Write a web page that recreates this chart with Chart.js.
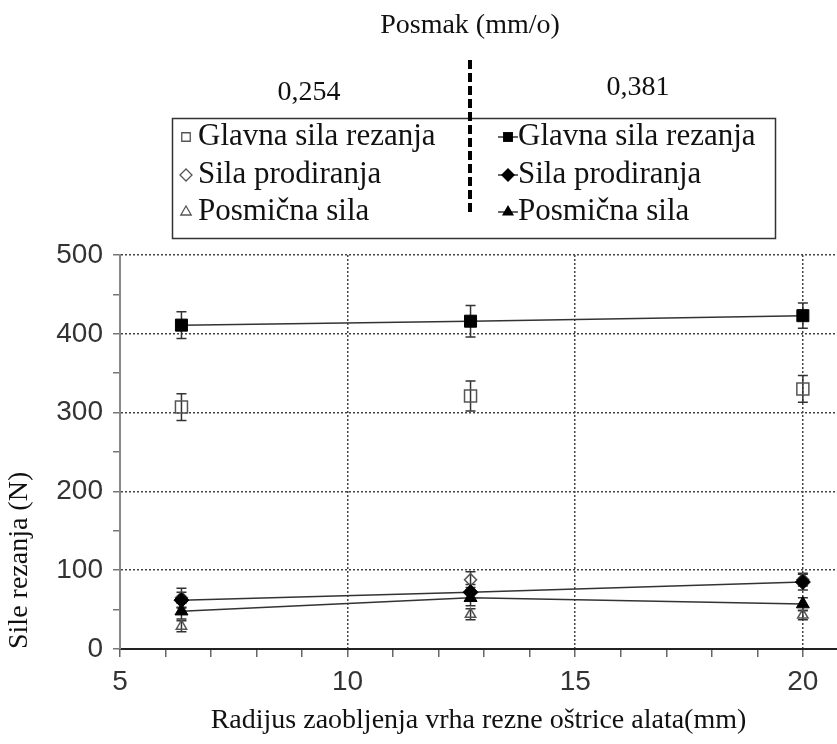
<!DOCTYPE html>
<html>
<head>
<meta charset="utf-8">
<script src="https://cdn.jsdelivr.net/npm/chart.js@4.4.0/dist/chart.umd.min.js"></script>
<style>
  html, body { margin: 0; padding: 0; background: #fff; }
  #wrap { width: 837px; height: 744px; }
</style>
</head>
<body>
<div id="wrap"><canvas id="forceChart" width="837" height="744"></canvas></div>
<script>
// Radijus zaobljenja vrha (mm)
const radius = [6.35, 12.7, 20];

// Posmak 0,254 mm/o (prazni markeri)
const glavna254 = [307, 321, 330];
const glavna254Err = [17, 19, 17];
const prodiranja254 = [65, 88, 88];
const prodiranja254Err = [12, 10, 8];
const posmicna254 = [29, 44, 43];
const posmicna254Err = [7, 7, 6];

// Posmak 0,381 mm/o (puni markeri, spojeni linijom)
const glavna381 = [411, 416, 423];
const glavna381Err = [17, 20, 16];
const prodiranja381 = [62, 72, 85];
const prodiranja381Err = [10, 10, 10];
const posmicna381 = [48, 65, 57];
const posmicna381Err = [10, 10, 8];

const seriesLabels = ['Glavna sila rezanja', 'Sila prodiranja', 'Posmična sila'];
const feedLabels = ['0,254', '0,381'];
const headerTitle = 'Posmak (mm/o)';

const SERIF = '"Liberation Serif", "Times New Roman", serif';
const SANS = '"Liberation Sans", Arial, sans-serif';

function toPoints(values) {
    return values.map((v, i) => ({ x: radius[i], y: v }));
}

// crta marker kao Chart.js (za legendu)
function drawMarker(c, style, x, y, r, filled, color) {
    c.beginPath();
    if (style === 'rect') {
        const s = Math.SQRT1_2 * r;
        c.rect(x - s, y - s, 2 * s, 2 * s);
    } else if (style === 'rectRot') {
        c.moveTo(x, y - r);
        c.lineTo(x + r, y);
        c.lineTo(x, y + r);
        c.lineTo(x - r, y);
        c.closePath();
    } else {
        let a = 0;
        c.moveTo(x + Math.sin(a) * r, y - Math.cos(a) * r);
        a += Math.PI * 2 / 3;
        c.lineTo(x + Math.sin(a) * r, y - Math.cos(a) * r);
        a += Math.PI * 2 / 3;
        c.lineTo(x + Math.sin(a) * r, y - Math.cos(a) * r);
        c.closePath();
    }
    if (filled) {
        c.fillStyle = color;
        c.fill();
    } else {
        c.strokeStyle = color;
        c.lineWidth = 1.3;
        c.stroke();
    }
}

// error bars ispod markera
const errorBarPlugin = {
    id: 'errorBars',
    beforeDatasetsDraw(chart) {
        const c = chart.ctx;
        const yScale = chart.scales.y;
        c.save();
        chart.data.datasets.forEach((ds, i) => {
            const meta = chart.getDatasetMeta(i);
            meta.data.forEach((pt, j) => {
                const v = ds.data[j].y;
                const e = ds.errors[j];
                const yTop = yScale.getPixelForValue(v + e);
                const yBot = yScale.getPixelForValue(v - e);
                c.strokeStyle = '#333';
                c.lineWidth = 1.5;
                c.beginPath();
                c.moveTo(pt.x, yTop);
                c.lineTo(pt.x, yBot);
                c.moveTo(pt.x - 5, yTop);
                c.lineTo(pt.x + 5, yTop);
                c.moveTo(pt.x - 5, yBot);
                c.lineTo(pt.x + 5, yBot);
                c.stroke();
            });
        });
        c.restore();
    }
};

// naslov posmaka, legenda u dva stupca i isprekidana linija
const headerLegendPlugin = {
    id: 'headerLegend',
    afterDraw(chart) {
        const c = chart.ctx;
        c.save();
        c.fillStyle = '#111';
        c.font = '28px ' + SERIF;
        c.textAlign = 'center';
        c.textBaseline = 'middle';
        c.fillText(headerTitle, 470, 26);
        c.fillText(feedLabels[0], 309, 93);
        c.fillText(feedLabels[1], 638, 88);

        c.strokeStyle = '#333';
        c.lineWidth = 1.5;
        c.strokeRect(172.5, 118.5, 603, 120);

        const rows = [137, 175, 212];
        c.font = '31px ' + SERIF;
        c.textAlign = 'left';
        seriesLabels.forEach((label, i) => {
            const open = chart.data.datasets[i];
            const filled = chart.data.datasets[i + 3];
            drawMarker(c, open.pointStyle, 186, rows[i], 6, false, '#555');
            c.fillStyle = '#111';
            c.fillText(label, 198, rows[i]);

            c.strokeStyle = '#333';
            c.lineWidth = 1.5;
            c.beginPath();
            c.moveTo(498, rows[i]);
            c.lineTo(518, rows[i]);
            c.stroke();
            drawMarker(c, filled.pointStyle, 508, rows[i], 7, true, '#000');
            c.fillStyle = '#111';
            c.fillText(label, 518, rows[i]);
        });

        c.strokeStyle = '#000';
        c.lineWidth = 4;
        c.setLineDash([9, 4]);
        c.beginPath();
        c.moveTo(470, 60);
        c.lineTo(470, 216);
        c.stroke();
        c.restore();
    }
};

const openStyle = (label, values, errors, style, r) => ({
    label: label + ' (' + feedLabels[0] + ')',
    data: toPoints(values),
    errors: errors,
    pointStyle: style,
    pointRadius: r,
    pointHoverRadius: r,
    pointBackgroundColor: 'rgba(0,0,0,0)',
    pointBorderColor: '#555',
    pointBorderWidth: 1.5,
    showLine: false,
    order: 1
});

const filledStyle = (label, values, errors, style, r) => ({
    label: label + ' (' + feedLabels[1] + ')',
    data: toPoints(values),
    errors: errors,
    pointStyle: style,
    pointRadius: r,
    pointHoverRadius: r,
    pointBackgroundColor: '#000',
    pointBorderColor: '#000',
    pointBorderWidth: 1,
    borderColor: '#333',
    borderWidth: 1.5,
    showLine: true,
    tension: 0,
    order: 0
});

const ctx = document.getElementById('forceChart').getContext('2d');

const chart = new Chart(ctx, {
    type: 'scatter',
    data: {
        datasets: [
            openStyle(seriesLabels[0], glavna254, glavna254Err, 'rect', 8.5),
            openStyle(seriesLabels[1], prodiranja254, prodiranja254Err, 'rectRot', 6),
            openStyle(seriesLabels[2], posmicna254, posmicna254Err, 'triangle', 6),
            filledStyle(seriesLabels[0], glavna381, glavna381Err, 'rect', 8.5),
            filledStyle(seriesLabels[1], prodiranja381, prodiranja381Err, 'rectRot', 7.5),
            filledStyle(seriesLabels[2], posmicna381, posmicna381Err, 'triangle', 7.5)
        ]
    },
    options: {
        responsive: false,
        animation: false,
        layout: { autoPadding: false, padding: { top: 255, right: 0, left: 0, bottom: 0 } },
        plugins: {
            legend: { display: false },
            tooltip: { enabled: false }
        },
        scales: {
            x: {
                type: 'linear',
                min: 5,
                max: 20.75,
                afterFit: (scale) => {
                    scale.height = 95;
                    scale.paddingLeft = 0;
                    scale.paddingRight = 0;
                },
                ticks: {
                    stepSize: 1,
                    includeBounds: false,
                    autoSkip: false,
                    maxRotation: 0,
                    padding: 8,
                    color: '#333',
                    font: { family: SANS, size: 28 },
                    callback: (v) => (v % 5 === 0 ? v : '')
                },
                grid: {
                    color: (c) => (c.tick && c.tick.value % 5 === 0 && c.tick.value > 5 ? '#444' : 'rgba(0,0,0,0)'),
                    tickColor: '#666',
                    tickLength: 8,
                    lineWidth: 1.5
                },
                border: { display: true, color: '#222', width: 2, dash: [2, 2] },
                title: {
                    display: true,
                    text: 'Radijus zaobljenja vrha rezne oštrice alata(mm)',
                    color: '#111',
                    font: { family: SERIF, size: 28 },
                    padding: { top: 4, bottom: 7 }
                }
            },
            y: {
                min: 0,
                max: 500,
                afterFit: (scale) => { scale.width = 120; },
                ticks: {
                    stepSize: 50,
                    autoSkip: false,
                    padding: 10,
                    color: '#333',
                    font: { family: SANS, size: 28 },
                    callback: (v) => (v % 100 === 0 ? v : '')
                },
                grid: {
                    color: (c) => (c.tick && c.tick.value % 100 === 0 && c.tick.value > 0 ? '#444' : 'rgba(0,0,0,0)'),
                    tickColor: '#777',
                    tickLength: 7,
                    lineWidth: 1.5
                },
                border: { display: true, color: '#888', width: 2, dash: [2, 2] },
                title: {
                    display: true,
                    text: 'Sile rezanja (N)',
                    align: 'start',
                    color: '#111',
                    font: { family: SERIF, size: 28 },
                    padding: { top: 3, bottom: 4 }
                }
            }
        }
    },
    plugins: [errorBarPlugin, headerLegendPlugin]
});
</script>
</body>
</html>
